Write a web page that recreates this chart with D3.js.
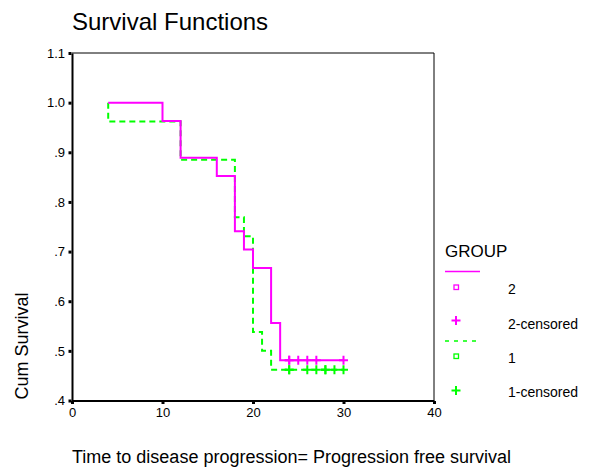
<!DOCTYPE html>
<html>
<head>
<meta charset="utf-8">
<script src="https://cdn.jsdelivr.net/npm/d3@7"></script>
<style>
  html, body { margin: 0; padding: 0; background: #fff; }
  svg { display: block; font-family: Arial, "Liberation Sans", sans-serif; }
</style>
</head>
<body>
<svg id="chart" width="590" height="468"></svg>
<script>
// ---- data ----
const xTicks = [0, 10, 20, 30, 40];
const yTicks = [0.4, 0.5, 0.6, 0.7, 0.8, 0.9, 1.0, 1.1];
const yTickLabels = [".4", ".5", ".6", ".7", ".8", ".9", "1.0", "1.1"];

// Group 2: step times & survival
const group2Times = [4, 10, 12, 16, 18, 19, 20, 22, 23, 30];
const group2Surv  = [1.0, 0.963, 0.889, 0.852, 0.741, 0.704, 0.667, 0.556, 0.481, 0.481];
const group2Censored = [24, 24, 25, 26, 27, 30];

// Group 1
const group1Times = [4, 4, 12, 18, 19, 20, 21, 22, 30];
const group1Surv  = [1.0, 0.962, 0.885, 0.769, 0.731, 0.538, 0.500, 0.462, 0.462];
const group1Censored = [24, 24, 26, 27, 28, 28, 29, 30];

const legendLabels = ["2", "2-censored", "1", "1-censored"];

// ---- layout ----
const svg = d3.select("#chart");
const pLeft = 72, pRight = 434, pTop = 53, pBottom = 400.5;
const x = d3.scaleLinear().domain([0, 40]).range([pLeft, pRight]);
const y = d3.scaleLinear().domain([0.4, 1.1]).range([pBottom, pTop]);

const MAG = "#ff00ff", GRN = "#00ff00";
const FONT = "Arial, 'Liberation Sans', sans-serif";

// Title
svg.append("text").attr("x", 72).attr("y", 30)
  .attr("font-size", 24).attr("fill", "#000").text("Survival Functions");

// frame (top & right)
svg.append("line").attr("x1", pLeft).attr("x2", pRight).attr("y1", pTop).attr("y2", pTop)
  .attr("stroke", "#000").attr("stroke-width", 1);
svg.append("line").attr("x1", pRight).attr("x2", pRight).attr("y1", pTop).attr("y2", pBottom)
  .attr("stroke", "#000").attr("stroke-width", 1);

// Axes
const yAxis = d3.axisLeft(y).tickValues(yTicks).tickFormat((d, i) => yTickLabels[i]).tickSize(0).tickPadding(7);
const gy = svg.append("g").attr("transform", `translate(${pLeft},0)`).call(yAxis);
gy.select(".domain").attr("stroke", "#000").attr("stroke-width", 2);
gy.selectAll(".tick text").attr("font-size", 13).attr("font-family", FONT).attr("fill", "#000");
gy.selectAll(".tick").append("rect").attr("x", -3.5).attr("y", -1.5).attr("width", 3).attr("height", 3).attr("fill", "#000");

const xAxis = d3.axisBottom(x).tickValues(xTicks).tickSize(0).tickPadding(7);
const gx = svg.append("g").attr("transform", `translate(0,${pBottom})`).call(xAxis);
gx.select(".domain").attr("stroke", "#000").attr("stroke-width", 2);
gx.selectAll(".tick text").attr("font-size", 13).attr("font-family", FONT).attr("fill", "#000");
gx.selectAll(".tick").append("rect").attr("x", -1.5).attr("y", 0.5).attr("width", 3).attr("height", 3).attr("fill", "#000");

// Axis titles
svg.append("text").attr("transform", `translate(28,346) rotate(-90)`)
  .attr("text-anchor", "middle").attr("font-size", 18).attr("fill", "#000").text("Cum Survival");
svg.append("text").attr("x", 72).attr("y", 463)
  .attr("font-size", 18).attr("fill", "#000")
  .text("Time to disease progression= Progression free survival");

// Curves
const line = d3.line().x(d => x(d[0])).y(d => y(d[1])).curve(d3.curveStepAfter);
const g2 = group2Times.map((t, i) => [t, group2Surv[i]]);
const g1 = group1Times.map((t, i) => [t, group1Surv[i]]);

svg.append("path").attr("d", line(g1)).attr("fill", "none")
  .attr("stroke", GRN).attr("stroke-width", 2).attr("stroke-dasharray", "6,4");
svg.append("path").attr("d", line(g2)).attr("fill", "none")
  .attr("stroke", MAG).attr("stroke-width", 2);

// Censored markers
function survAt(times, surv, t) {
  let v = surv[0];
  for (let i = 0; i < times.length; i++) if (times[i] <= t) v = surv[i];
  return v;
}
function plus(g, cx, cy, color) {
  g.append("path").attr("d", `M${cx - 4.5},${cy}H${cx + 4.5}M${cx},${cy - 4.5}V${cy + 4.5}`)
    .attr("stroke", color).attr("stroke-width", 2).attr("fill", "none");
}
const cg = svg.append("g");
group2Censored.forEach(t => plus(cg, x(t), y(survAt(group2Times, group2Surv, t)), MAG));
group1Censored.forEach(t => plus(cg, x(t), y(survAt(group1Times, group1Surv, t)), GRN));

// Legend
const lg = svg.append("g");
lg.append("text").attr("x", 445).attr("y", 257).attr("font-size", 17).attr("fill", "#000").text("GROUP");
lg.append("line").attr("x1", 445).attr("x2", 480).attr("y1", 271.5).attr("y2", 271.5)
  .attr("stroke", MAG).attr("stroke-width", 1.5);
lg.append("rect").attr("x", 454).attr("y", 285).attr("width", 4.5).attr("height", 4.5)
  .attr("fill", "none").attr("stroke", MAG).attr("stroke-width", 1.3);
lg.append("text").attr("x", 508).attr("y", 294).attr("font-size", 14).attr("fill", "#000").text(legendLabels[0]);
plus(lg, 456, 320.5, MAG);
lg.append("text").attr("x", 508).attr("y", 329).attr("font-size", 14).attr("fill", "#000").text(legendLabels[1]);
lg.append("line").attr("x1", 445).attr("x2", 480).attr("y1", 341).attr("y2", 341)
  .attr("stroke", GRN).attr("stroke-width", 1.5).attr("stroke-dasharray", "4,5");
lg.append("rect").attr("x", 454).attr("y", 354).attr("width", 4.5).attr("height", 4.5)
  .attr("fill", "none").attr("stroke", GRN).attr("stroke-width", 1.3);
lg.append("text").attr("x", 508).attr("y", 363).attr("font-size", 14).attr("fill", "#000").text(legendLabels[2]);
plus(lg, 456, 390.5, GRN);
lg.append("text").attr("x", 508).attr("y", 397).attr("font-size", 14).attr("fill", "#000").text(legendLabels[3]);
</script>
</body>
</html>
